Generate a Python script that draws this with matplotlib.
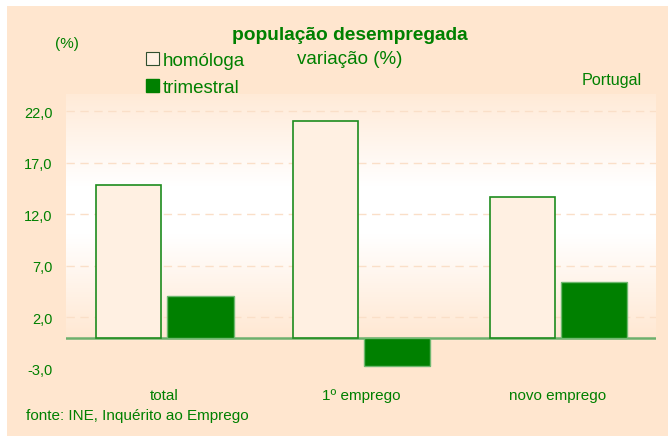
import numpy as np
import matplotlib.pyplot as plt
from matplotlib.patches import Rectangle, Patch

plt.rcParams['font.family'] = ['Liberation Sans', 'DejaVu Sans']

# dados
categorias = ['total', '1º emprego', 'novo emprego']
homologa = [14.8, 21.0, 13.7]
trimestral = [4.1, -2.7, 5.4]
yticks = [-3.0, 2.0, 7.0, 12.0, 17.0, 22.0]

verde = '#008000'
pessego = '#FFE6CF'
W, H = 668, 439


def fx(x):
    return x / W


def fy(y):
    return 1 - y / H


fig = plt.figure(figsize=(W / 100, H / 100), dpi=100)
fig.patch.set_facecolor('white')
fig.patches.append(Rectangle((fx(7), fy(437)), fx(661), 430 / H,
                             transform=fig.transFigure, facecolor=pessego,
                             edgecolor='none', zorder=-5))

ax = fig.add_axes([fx(66), fy(375), fx(590), 280 / H])
ax.set_facecolor('none')
ax.set_xlim(-0.5, 2.5)
ax.set_ylim(-3.52, 23.66)

# fundo em degradê da área do gráfico
t = np.linspace(0, 1, 200)
w = np.clip(1 - (np.abs(t - 0.53) - 0.1) / 0.45, 0, 1)
p = np.array([255, 230, 207]) / 255
cores = p[None, :] * (1 - w[:, None]) + w[:, None]
ax.imshow(cores[:, None, :], extent=[-0.5, 2.5, -0.3, 23.66], origin='lower',
          aspect='auto', zorder=0.5)

x = np.arange(len(categorias))
ax.bar(x - 0.345, homologa, width=0.33, align='edge', facecolor='#FFF0E2',
       edgecolor='#1E8C1E', linewidth=1.2, zorder=3)
ax.bar(x + 0.015, trimestral, width=0.337, align='edge', facecolor=verde,
       edgecolor='#6FB86F', linewidth=1.0, zorder=3)
ax.axhline(0, color='#6DB06D', linewidth=1.8, zorder=2)

ax.set_yticks(yticks)
ax.set_yticklabels([f'{v:.1f}'.replace('.', ',') for v in yticks])
ax.grid(axis='y', color='#FADFC8', linestyle=(0, (6, 4)), linewidth=1, zorder=1)
ax.get_ygridlines()[0].set_visible(False)
ax.set_xticks(x)
ax.set_xticklabels(categorias)
ax.tick_params(axis='y', length=0, pad=9.5, labelsize=10.5, labelcolor=verde)
ax.tick_params(axis='x', length=0, pad=10, labelsize=11, labelcolor=verde)
for s in ax.spines.values():
    s.set_visible(False)

fig.text(fx(350), fy(35), 'população desempregada', ha='center', va='center',
         fontsize=13.8, fontweight='bold', color=verde)
fig.text(fx(67), fy(44), '(%)', ha='center', va='center', fontsize=11, color=verde)
fig.text(fx(297), fy(60), 'variação (%)', ha='left', va='center', fontsize=13.5, color=verde)
fig.text(fx(612), fy(80), 'Portugal', ha='center', va='center', fontsize=11.6, color=verde)
fig.text(fx(26), fy(416), 'fonte: INE, Inquérito ao Emprego', ha='left', va='center',
         fontsize=11, color=verde)

handles = [Patch(facecolor='#FFF0E2', edgecolor='#2F4F2F', linewidth=0.8),
           Patch(facecolor=verde, edgecolor=verde)]
fig.legend(handles, ['homóloga', 'trimestral'], loc='upper left',
           bbox_to_anchor=(fx(146), fy(53)), frameon=False, fontsize=13.5,
           labelcolor=verde, handlelength=0.7, handleheight=0.7,
           handletextpad=0.2, labelspacing=0.5, borderpad=0, borderaxespad=0)

fig.savefig('out.png', dpi=100)
